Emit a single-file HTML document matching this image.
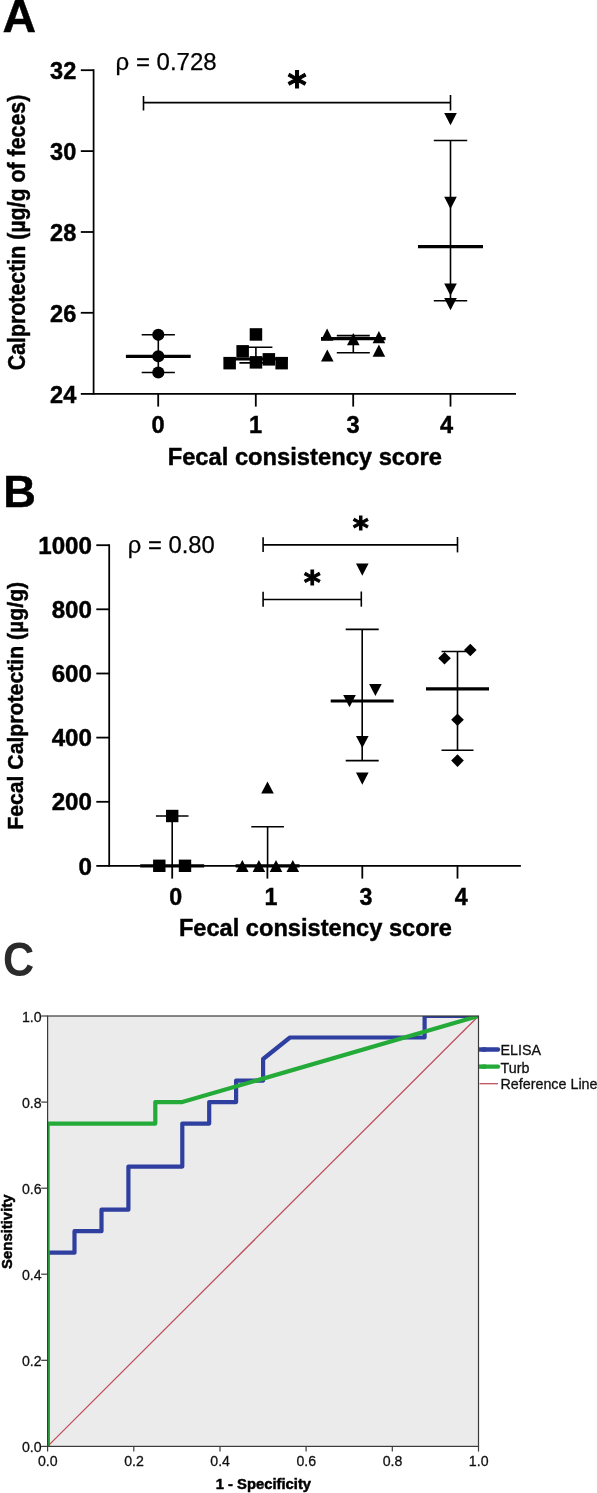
<!DOCTYPE html>
<html lang="en"><head><meta charset="utf-8"><title>Figure</title>
<style>
html,body{margin:0;padding:0;background:#fff}
svg{display:block;font-family:"Liberation Sans",sans-serif}
.b{font-weight:bold}
#panelA .b,#panelB .b{stroke:#000;stroke-width:.45px}
.ast{font-family:"DejaVu Sans",sans-serif;font-weight:bold;stroke:#000;stroke-linejoin:miter}
.cl text{stroke:#000;stroke-width:.5px}
.rho{stroke:#000;stroke-width:.25px}
.ct text,.lg text{fill:#111;stroke:#111;stroke-width:.3px}
.ln line{stroke:#000}
.sh{fill:#000}
</style></head><body>
<svg width="597" height="1493" viewBox="0 0 597 1493">
<rect width="597" height="1493" fill="#fff"/>

<g id="panelA">
<text class="b" transform="translate(2.60,32.20)" font-size="46.5">A</text>
<g class="ln">
<line x1="93.6" y1="69.3" x2="93.6" y2="394.8" stroke-width="1.75"/>
<line x1="93.6" y1="393.9" x2="516.0" y2="393.9" stroke-width="1.8"/>
<line x1="80.8" y1="70.2" x2="93.6" y2="70.2" stroke-width="1.8"/>
<line x1="80.8" y1="151.1" x2="93.6" y2="151.1" stroke-width="1.8"/>
<line x1="80.8" y1="232.0" x2="93.6" y2="232.0" stroke-width="1.8"/>
<line x1="80.8" y1="312.8" x2="93.6" y2="312.8" stroke-width="1.8"/>
<line x1="80.8" y1="393.9" x2="93.6" y2="393.9" stroke-width="1.8"/>
<line x1="158.2" y1="393.9" x2="158.2" y2="406.6" stroke-width="1.8"/>
<line x1="255.8" y1="393.9" x2="255.8" y2="406.6" stroke-width="1.8"/>
<line x1="353.2" y1="393.9" x2="353.2" y2="406.6" stroke-width="1.8"/>
<line x1="450.5" y1="393.9" x2="450.5" y2="406.6" stroke-width="1.8"/>
<line x1="143.5" y1="102.6" x2="450.5" y2="102.6" stroke-width="1.6"/>
<line x1="143.5" y1="96.0" x2="143.5" y2="110.5" stroke-width="1.6"/>
<line x1="450.5" y1="95.0" x2="450.5" y2="110.5" stroke-width="1.6"/>
<line x1="158.3" y1="334.8" x2="158.3" y2="372.5" stroke-width="1.6"/><line x1="141.7" y1="334.8" x2="174.9" y2="334.8" stroke-width="1.6"/><line x1="141.7" y1="372.5" x2="174.9" y2="372.5" stroke-width="1.6"/><line x1="125.9" y1="356.3" x2="190.7" y2="356.3" stroke-width="3.2"/>
<line x1="255.9" y1="347.2" x2="255.9" y2="362.9" stroke-width="1.6"/><line x1="239.4" y1="347.2" x2="272.4" y2="347.2" stroke-width="1.6"/><line x1="239.4" y1="362.9" x2="272.4" y2="362.9" stroke-width="1.6"/><line x1="223.9" y1="359.0" x2="287.9" y2="359.0" stroke-width="3.2"/>
<line x1="353.3" y1="335.6" x2="353.3" y2="352.7" stroke-width="1.6"/><line x1="336.8" y1="335.6" x2="369.8" y2="335.6" stroke-width="1.6"/><line x1="336.8" y1="352.7" x2="369.8" y2="352.7" stroke-width="1.6"/><line x1="321.0" y1="338.7" x2="385.6" y2="338.7" stroke-width="3.2"/>
<line x1="450.5" y1="140.5" x2="450.5" y2="300.8" stroke-width="1.6"/><line x1="433.8" y1="140.5" x2="467.2" y2="140.5" stroke-width="1.6"/><line x1="433.8" y1="300.8" x2="467.2" y2="300.8" stroke-width="1.6"/><line x1="418.0" y1="246.6" x2="483.0" y2="246.6" stroke-width="3.2"/>
</g>
<g class="sh">
<circle cx="158.3" cy="334.8" r="6.1"/>
<circle cx="158.3" cy="356.3" r="6.1"/>
<circle cx="158.3" cy="372.5" r="6.1"/>
<rect x="249.7" y="328.2" width="12.5" height="12.5"/>
<rect x="236.4" y="345.1" width="12.5" height="12.5"/>
<rect x="223.4" y="356.9" width="12.5" height="12.5"/>
<rect x="249.7" y="356.1" width="12.5" height="12.5"/>
<rect x="262.6" y="353.1" width="12.5" height="12.5"/>
<rect x="275.4" y="356.9" width="12.5" height="12.5"/>
<polygon points="320.8,340.8 333.4,340.8 327.1,328.6"/>
<polygon points="347.0,345.2 359.6,345.2 353.3,333.0"/>
<polygon points="372.6,343.3 385.2,343.3 378.9,331.1"/>
<polygon points="321.0,361.6 333.6,361.6 327.3,349.4"/>
<polygon points="372.6,356.8 385.2,356.8 378.9,344.6"/>
<polygon points="444.2,113.1 456.8,113.1 450.5,125.3"/>
<polygon points="444.2,196.8 456.8,196.8 450.5,209.0"/>
<polygon points="444.2,283.6 456.8,283.6 450.5,295.8"/>
<polygon points="444.2,298.0 456.8,298.0 450.5,310.2"/>
</g>
<text class="b" transform="translate(76.30,78.90) scale(0.970,1)" font-size="24.3" text-anchor="end">32</text>
<text class="b" transform="translate(76.30,159.80) scale(0.970,1)" font-size="24.3" text-anchor="end">30</text>
<text class="b" transform="translate(76.30,240.70) scale(0.970,1)" font-size="24.3" text-anchor="end">28</text>
<text class="b" transform="translate(76.30,321.50) scale(0.970,1)" font-size="24.3" text-anchor="end">26</text>
<text class="b" transform="translate(76.30,402.60) scale(0.970,1)" font-size="24.3" text-anchor="end">24</text>
<text class="b" transform="translate(158.00,433.00) scale(0.960,1)" font-size="24.6" text-anchor="middle">0</text>
<text class="b" transform="translate(255.60,433.00) scale(0.960,1)" font-size="24.6" text-anchor="middle">1</text>
<text class="b" transform="translate(353.00,433.00) scale(0.960,1)" font-size="24.6" text-anchor="middle">3</text>
<text class="b" transform="translate(446.50,433.00) scale(0.960,1)" font-size="24.6" text-anchor="middle">4</text>
<text class="b" transform="translate(304.80,464.70) scale(0.957,1)" font-size="24.8" text-anchor="middle">Fecal consistency score</text>
<text class="b" transform="translate(24.80,232.50) rotate(-90) scale(0.890,1)" font-size="24.0" text-anchor="middle">Calprotectin (µg/g of feces)</text>
<text transform="translate(115.60,69.80)" font-size="24" class="rho">ρ = 0.728</text>
<text class="ast" x="297.0" y="98.0" font-size="36.5" stroke-width="1.0" text-anchor="middle">*</text>
</g>
<g id="panelB">
<text class="b" transform="translate(3.30,507.40)" font-size="45.2">B</text>
<g class="ln">
<line x1="109.2" y1="544.3" x2="109.2" y2="866.8" stroke-width="1.75"/>
<line x1="109.2" y1="865.9" x2="520.9" y2="865.9" stroke-width="1.9"/>
<line x1="96.3" y1="865.9" x2="109.2" y2="865.9" stroke-width="1.8"/>
<line x1="96.3" y1="801.8" x2="109.2" y2="801.8" stroke-width="1.8"/>
<line x1="96.3" y1="737.6" x2="109.2" y2="737.6" stroke-width="1.8"/>
<line x1="96.3" y1="673.5" x2="109.2" y2="673.5" stroke-width="1.8"/>
<line x1="96.3" y1="609.3" x2="109.2" y2="609.3" stroke-width="1.8"/>
<line x1="96.3" y1="545.2" x2="109.2" y2="545.2" stroke-width="1.8"/>
<line x1="172.2" y1="865.9" x2="172.2" y2="878.6" stroke-width="1.8"/>
<line x1="267.4" y1="865.9" x2="267.4" y2="878.6" stroke-width="1.8"/>
<line x1="362.3" y1="865.9" x2="362.3" y2="878.6" stroke-width="1.8"/>
<line x1="457.5" y1="865.9" x2="457.5" y2="878.6" stroke-width="1.8"/>
<line x1="263.1" y1="544.9" x2="457.5" y2="544.9" stroke-width="1.6"/>
<line x1="263.1" y1="537.2" x2="263.1" y2="552.0" stroke-width="1.6"/>
<line x1="457.5" y1="537.0" x2="457.5" y2="552.4" stroke-width="1.6"/>
<line x1="263.1" y1="599.5" x2="361.3" y2="599.5" stroke-width="1.6"/>
<line x1="263.1" y1="591.7" x2="263.1" y2="606.7" stroke-width="1.6"/>
<line x1="361.3" y1="591.5" x2="361.3" y2="606.7" stroke-width="1.6"/>
<line x1="172.2" y1="816.0" x2="172.2" y2="865.8" stroke-width="1.6"/><line x1="155.9" y1="816.0" x2="188.5" y2="816.0" stroke-width="1.6"/><line x1="140.2" y1="865.8" x2="204.2" y2="865.8" stroke-width="3.2"/>
<line x1="267.6" y1="826.7" x2="267.6" y2="865.8" stroke-width="1.6"/><line x1="251.3" y1="826.7" x2="283.9" y2="826.7" stroke-width="1.6"/><line x1="235.6" y1="865.8" x2="299.6" y2="865.8" stroke-width="3.2"/>
<line x1="362.2" y1="629.4" x2="362.2" y2="760.6" stroke-width="1.6"/><line x1="345.7" y1="629.4" x2="378.7" y2="629.4" stroke-width="1.6"/><line x1="345.7" y1="760.6" x2="378.7" y2="760.6" stroke-width="1.6"/><line x1="330.7" y1="701.0" x2="393.7" y2="701.0" stroke-width="3.2"/>
<line x1="457.5" y1="651.5" x2="457.5" y2="750.3" stroke-width="1.6"/><line x1="441.5" y1="651.5" x2="473.5" y2="651.5" stroke-width="1.6"/><line x1="441.5" y1="750.3" x2="473.5" y2="750.3" stroke-width="1.6"/><line x1="426.0" y1="688.8" x2="489.0" y2="688.8" stroke-width="3.2"/>
</g>
<g class="sh">
<rect x="166.0" y="809.8" width="12.4" height="12.4"/>
<rect x="153.1" y="859.6" width="12.4" height="12.4"/>
<rect x="178.8" y="859.6" width="12.4" height="12.4"/>
<polygon points="261.2,793.6 273.8,793.6 267.5,781.4"/>
<polygon points="236.0,872.1 248.6,872.1 242.3,859.9"/>
<polygon points="252.6,872.1 265.2,872.1 258.9,859.9"/>
<polygon points="269.7,872.1 282.3,872.1 276.0,859.9"/>
<polygon points="286.5,872.1 299.1,872.1 292.8,859.9"/>
<polygon points="356.0,563.5 368.6,563.5 362.3,575.7"/>
<polygon points="369.1,683.9 381.7,683.9 375.4,696.1"/>
<polygon points="343.2,695.1 355.8,695.1 349.5,707.3"/>
<polygon points="356.0,735.9 368.6,735.9 362.3,748.1"/>
<polygon points="356.0,772.6 368.6,772.6 362.3,784.8"/>
<polygon points="464.0,650.0 470.3,643.7 476.6,650.0 470.3,656.3"/>
<polygon points="438.2,658.3 444.5,652.0 450.8,658.3 444.5,664.6"/>
<polygon points="451.2,719.7 457.5,713.4 463.8,719.7 457.5,726.0"/>
<polygon points="451.2,760.6 457.5,754.3 463.8,760.6 457.5,766.9"/>
</g>
<text class="b" transform="translate(92.00,874.60) scale(0.995,1)" font-size="24.3" text-anchor="end">0</text>
<text class="b" transform="translate(92.00,810.46) scale(0.995,1)" font-size="24.3" text-anchor="end">200</text>
<text class="b" transform="translate(92.00,746.32) scale(0.995,1)" font-size="24.3" text-anchor="end">400</text>
<text class="b" transform="translate(92.00,682.18) scale(0.995,1)" font-size="24.3" text-anchor="end">600</text>
<text class="b" transform="translate(92.00,618.04) scale(0.995,1)" font-size="24.3" text-anchor="end">800</text>
<text class="b" transform="translate(92.00,553.90) scale(0.995,1)" font-size="24.3" text-anchor="end">1000</text>
<text class="b" transform="translate(175.80,905.00) scale(0.960,1)" font-size="24.2" text-anchor="middle">0</text>
<text class="b" transform="translate(271.00,905.00) scale(0.960,1)" font-size="24.2" text-anchor="middle">1</text>
<text class="b" transform="translate(365.90,905.00) scale(0.960,1)" font-size="24.2" text-anchor="middle">3</text>
<text class="b" transform="translate(461.10,905.00) scale(0.960,1)" font-size="24.2" text-anchor="middle">4</text>
<text class="b" transform="translate(315.40,936.10) scale(0.972,1)" font-size="24.3" text-anchor="middle">Fecal consistency score</text>
<text class="b" transform="translate(23.00,705.80) rotate(-90) scale(0.931,1)" font-size="22.8" text-anchor="middle">Fecal Calprotectin (µg/g)</text>
<text transform="translate(127.80,552.90)" font-size="23.8" class="rho">ρ = 0.80</text>
<text class="ast" x="360.7" y="538.3" font-size="30.5" stroke-width="1.0" text-anchor="middle">*</text>
<text class="ast" x="312.3" y="593.2" font-size="32.5" stroke-width="1.0" text-anchor="middle">*</text>
</g>
<g id="panelC">
<text class="b" transform="translate(2.90,976.10) scale(0.890,1)" font-size="48.5" fill="#2b2b2b">C</text>
<rect x="47.6" y="1016" width="430.9" height="430.4" fill="#ebebeb"/>
<clipPath id="cp"><rect x="47.6" y="1016" width="430.9" height="430.4"/></clipPath>
<g clip-path="url(#cp)" fill="none" stroke-linejoin="round">
<line x1="47.6" y1="1446.4" x2="478.5" y2="1016.0" stroke="#c04a58" stroke-width="1.25"/>
<polyline stroke="#2f3f9f" stroke-width="4.2" points="47.6,1446.4 47.6,1252.7 74.5,1252.7 74.5,1231.2 101.5,1231.2 101.5,1209.7 128.4,1209.7 128.4,1166.6 182.3,1166.6 182.3,1123.6 209.2,1123.6 209.2,1102.1 236.1,1102.1 236.1,1080.6 263.1,1080.6 263.1,1059.0 290.0,1037.5 424.6,1037.5 424.6,1016.0 478.5,1016.0"/>
<polyline stroke="#24aa38" stroke-width="4.2" points="47.6,1446.4 47.6,1123.6 155.3,1123.6 155.3,1102.1 182.3,1102.1 478.5,1016.0"/>
</g>
<rect x="47.6" y="1016" width="430.9" height="430.4" fill="none" stroke="#3a3a3a" stroke-width="1.2"/>
<g stroke="#3a3a3a" stroke-width="1.2">
<line x1="41.2" y1="1446.4" x2="47.6" y2="1446.4"/>
<line x1="47.6" y1="1446.4" x2="47.6" y2="1451.6"/>
<line x1="41.2" y1="1360.3" x2="47.6" y2="1360.3"/>
<line x1="133.8" y1="1446.4" x2="133.8" y2="1451.6"/>
<line x1="41.2" y1="1274.2" x2="47.6" y2="1274.2"/>
<line x1="220.0" y1="1446.4" x2="220.0" y2="1451.6"/>
<line x1="41.2" y1="1188.2" x2="47.6" y2="1188.2"/>
<line x1="306.1" y1="1446.4" x2="306.1" y2="1451.6"/>
<line x1="41.2" y1="1102.1" x2="47.6" y2="1102.1"/>
<line x1="392.3" y1="1446.4" x2="392.3" y2="1451.6"/>
<line x1="41.2" y1="1016.0" x2="47.6" y2="1016.0"/>
<line x1="478.5" y1="1446.4" x2="478.5" y2="1451.6"/>
</g>
<g class="ct">
<text transform="translate(41.60,1452.30) scale(0.920,1)" font-size="15.4" text-anchor="end">0.0</text>
<text transform="translate(41.60,1366.22) scale(0.920,1)" font-size="15.4" text-anchor="end">0.2</text>
<text transform="translate(41.60,1280.14) scale(0.920,1)" font-size="15.4" text-anchor="end">0.4</text>
<text transform="translate(41.60,1194.06) scale(0.920,1)" font-size="15.4" text-anchor="end">0.6</text>
<text transform="translate(41.60,1107.98) scale(0.920,1)" font-size="15.4" text-anchor="end">0.8</text>
<text transform="translate(41.60,1021.90) scale(0.920,1)" font-size="15.4" text-anchor="end">1.0</text>
</g>
<g class="ct">
<text transform="translate(47.80,1466.40) scale(0.920,1)" font-size="15.4" text-anchor="middle">0.0</text>
<text transform="translate(133.98,1466.40) scale(0.920,1)" font-size="15.4" text-anchor="middle">0.2</text>
<text transform="translate(220.16,1466.40) scale(0.920,1)" font-size="15.4" text-anchor="middle">0.4</text>
<text transform="translate(306.34,1466.40) scale(0.920,1)" font-size="15.4" text-anchor="middle">0.6</text>
<text transform="translate(392.52,1466.40) scale(0.920,1)" font-size="15.4" text-anchor="middle">0.8</text>
<text transform="translate(478.70,1466.40) scale(0.920,1)" font-size="15.4" text-anchor="middle">1.0</text>
</g>
<g class="cl">
<text class="b" transform="translate(263.40,1488.50) scale(0.955,1)" font-size="15.5" text-anchor="middle">1 - Specificity</text>
<text class="b" transform="translate(12.10,1231.70) rotate(-90) scale(0.960,1)" font-size="15.5" text-anchor="middle">Sensitivity</text>
</g>
<g stroke-linecap="round">
<line x1="483" y1="1049.5" x2="498" y2="1049.5" stroke="#2f3f9f" stroke-width="4.4"/>
<line x1="483" y1="1066.6" x2="498" y2="1066.6" stroke="#24aa38" stroke-width="4.4"/>
<line x1="479" y1="1049.5" x2="486" y2="1049.5" stroke="#2f3f9f" stroke-width="4.4" stroke-linecap="butt"/>
<line x1="479" y1="1066.6" x2="486" y2="1066.6" stroke="#24aa38" stroke-width="4.4" stroke-linecap="butt"/>
<line x1="479.5" y1="1083.7" x2="498" y2="1083.7" stroke="#c04a58" stroke-width="1.25" stroke-linecap="butt"/>
</g>
<g class="lg" font-size="14.3">
<text x="500.5" y="1055.2">ELISA</text>
<text x="500.5" y="1072.5">Turb</text>
<text x="500.5" y="1089.0">Reference Line</text>
</g>
</g>
</svg>
</body></html>
